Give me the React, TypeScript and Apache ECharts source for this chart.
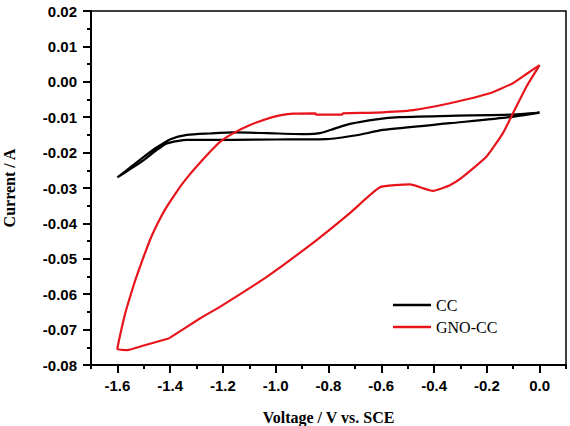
import React, { useEffect, useRef } from "react";
import * as echarts from "echarts";

// Cyclic voltammograms: potential (V vs. SCE) and current (A)
const ccVoltage = [
  -1.6, -1.55, -1.5, -1.45, -1.399, -1.336, -1.25, -1.16, -1.034, -0.882, -0.832, -0.78, -0.719, -0.618, -0.53, -0.34, -0.113, 0.0,
  -0.113, -0.34, -0.593, -0.693, -0.807, -1.0, -1.16, -1.336, -1.412, -1.45, -1.5, -1.55, -1.6,
];
const ccCurrent = [
  -0.027, -0.0241, -0.0212, -0.0185, -0.0162, -0.015, -0.0146, -0.0143, -0.0145, -0.0148, -0.0145, -0.0133, -0.0119, -0.0106, -0.01, -0.0096, -0.0093, -0.0087,
  -0.01, -0.0117, -0.0136, -0.0151, -0.0162, -0.0163, -0.0164, -0.0164, -0.0174, -0.0192, -0.0221, -0.0246, -0.027,
];

const gnoVoltage = [
  0.0, -0.05, -0.101, -0.189, -0.34, -0.479, -0.618, -0.745, -0.749, -0.847, -0.85, -0.933, -1.009, -1.097, -1.16, -1.21,
  -1.248, -1.286, -1.324, -1.362, -1.38, -1.399, -1.418, -1.437, -1.456, -1.475, -1.494, -1.513, -1.532, -1.551, -1.57,
  -1.588, -1.6,
  -1.563, -1.5, -1.406, -1.399, -1.286, -1.21, -1.034, -0.845, -0.719, -0.605, -0.492, -0.404, -0.34, -0.29, -0.202,
  -0.139, -0.101, -0.05, 0.0,
];
const gnoCurrent = [
  0.0047, 0.0022, -0.0004, -0.00325, -0.00607, -0.008, -0.0087, -0.0089, -0.0093, -0.0093, -0.0089, -0.009, -0.0099,
  -0.0122, -0.0145, -0.0169, -0.0197, -0.0228, -0.026, -0.0296, -0.0316, -0.0337, -0.0359, -0.0385, -0.0413, -0.0444,
  -0.0481, -0.052, -0.056, -0.0605, -0.0653, -0.071, -0.0755,
  -0.0758, -0.0745, -0.0725, -0.0722, -0.0668, -0.0635, -0.0551, -0.0447, -0.0371, -0.0298, -0.029, -0.0308, -0.0292,
  -0.0268, -0.0212, -0.0145, -0.0089, -0.0014, 0.0047,
];

const xMajorTicks = [-1.6, -1.4, -1.2, -1.0, -0.8, -0.6, -0.4, -0.2, 0.0];
const xMinorTicks = [-1.7, -1.5, -1.3, -1.1, -0.9, -0.7, -0.5, -0.3, -0.1, 0.1];

const seriesNames = ["CC", "GNO-CC"];

const zip = (xs: number[], ys: number[]) => xs.map((x, i) => [x, ys[i]]);

export default function App() {
  const ref = useRef<HTMLDivElement>(null);

  useEffect(() => {
    if (!ref.current) return;
    const chart = echarts.init(ref.current, null, { renderer: "svg" });
    const tickFont = { fontFamily: "Liberation Sans, Arial, sans-serif", fontWeight: "bold" as const, fontSize: 15, color: "#000" };
    const nameFont = { fontFamily: "Liberation Serif, Times New Roman, serif", fontWeight: "bold" as const, fontSize: 16, color: "#000" };
    chart.setOption({
      animation: false,
      backgroundColor: "#fff",
      grid: {
        left: 91, right: 4, top: 11, bottom: 61,
        outerBoundsMode: "none", containLabel: false,
        show: true, borderColor: "#000", borderWidth: 1.5,
      },
      legend: {
        orient: "vertical",
        left: 388,
        top: 292,
        icon: "rect",
        itemWidth: 38,
        itemHeight: 2.5,
        itemGap: 6,
        data: seriesNames,
        textStyle: { fontFamily: "Liberation Serif, Times New Roman, serif", fontSize: 16, color: "#000" },
      },
      xAxis: [
        {
          type: "value",
          min: -1.7,
          max: 0.1,
          name: "Voltage / V vs. SCE",
          nameLocation: "middle",
          nameGap: 44,
          nameTextStyle: nameFont,
          axisLine: { onZero: false, lineStyle: { color: "#000", width: 2 } },
          axisTick: { show: true, length: 8, customValues: xMajorTicks, lineStyle: { color: "#000", width: 2 } },
          axisLabel: { ...tickFont, margin: 13, customValues: xMajorTicks, formatter: (v: number) => v.toFixed(1) },
          splitLine: { show: false },
        },
        {
          type: "value",
          min: -1.7,
          max: 0.1,
          position: "bottom",
          offset: 0,
          axisLine: { show: false, onZero: false },
          axisTick: { show: true, length: 4, customValues: xMinorTicks, lineStyle: { color: "#000", width: 2 } },
          axisLabel: { show: false },
          splitLine: { show: false },
        },
      ],
      yAxis: {
        type: "value",
        min: -0.08,
        max: 0.02,
        interval: 0.01,
        name: "Current / A",
        nameLocation: "middle",
        nameGap: 74,
        nameTextStyle: nameFont,
        axisLine: { onZero: false, lineStyle: { color: "#000", width: 2 } },
        axisTick: { length: 8, lineStyle: { color: "#000", width: 2 } },
        minorTick: { show: true, splitNumber: 2, length: 4, lineStyle: { color: "#000", width: 2 } },
        axisLabel: { ...tickFont, margin: 14, formatter: (v: number) => v.toFixed(2) },
        splitLine: { show: false },
      },
      series: [
        {
          name: seriesNames[0],
          type: "line",
          xAxisIndex: 0,
          data: zip(ccVoltage, ccCurrent),
          showSymbol: false,
          symbol: "none",
          smooth: 0.2,
          lineStyle: { color: "#000", width: 2.2 },
          itemStyle: { color: "#000" },
        },
        {
          name: seriesNames[1],
          type: "line",
          xAxisIndex: 0,
          data: zip(gnoVoltage, gnoCurrent),
          showSymbol: false,
          symbol: "none",
          smooth: 0.15,
          lineStyle: { color: "#e8141b", width: 2.2 },
          itemStyle: { color: "#e8141b" },
        },
      ],
    });
    return () => chart.dispose();
  }, []);

  return <div ref={ref} style={{ position: "fixed", left: 0, top: 0, width: 570, height: 426 }} />;
}
